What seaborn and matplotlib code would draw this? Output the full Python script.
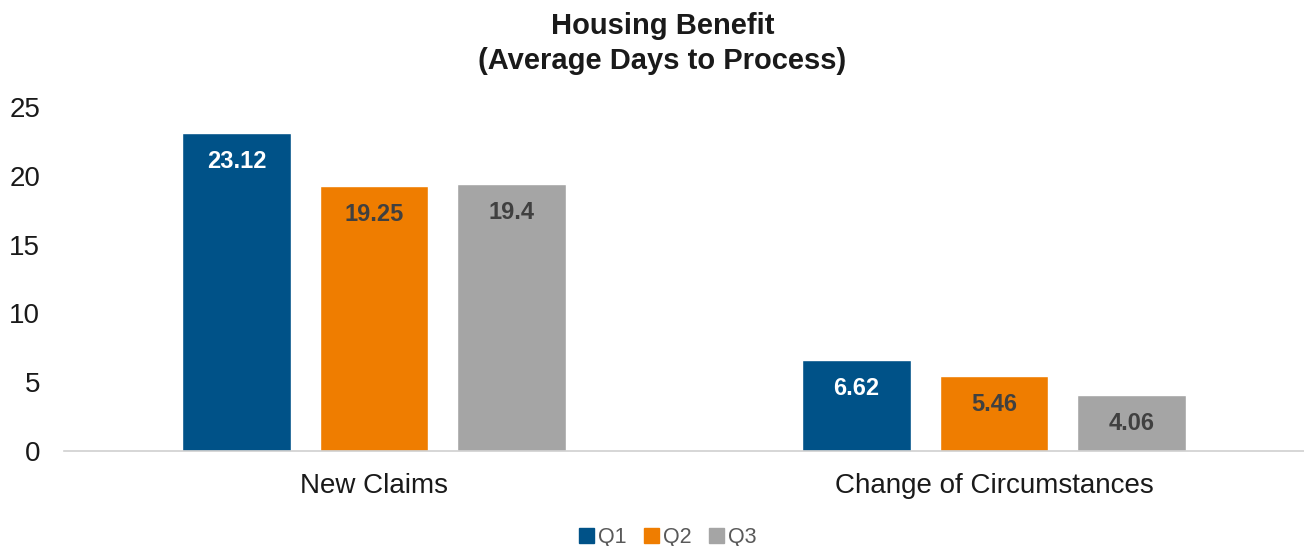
import matplotlib
matplotlib.use("Agg")
import matplotlib.pyplot as plt
import seaborn as sns
import pandas as pd

categories = ["New Claims", "Change of Circumstances"]
quarters = ["Q1", "Q2", "Q3"]
q1 = [23.12, 6.62]
q2 = [19.25, 5.46]
q3 = [19.4, 4.06]
colors = ["#005288", "#EF7D00", "#A5A5A5"]
label_colors = ["white", "#404040", "#404040"]

df = pd.DataFrame({
    "Category": categories * 3,
    "Quarter": [q for q in quarters for _ in categories],
    "Days": q1 + q2 + q3,
})

sns.set_theme(style="white")
plt.rcParams["font.family"] = ["Liberation Sans", "DejaVu Sans"]

fig = plt.figure(figsize=(13.04, 5.46), dpi=100)
ax = fig.add_axes([0.049, 0.174, 0.951, 0.630])

sns.barplot(data=df, x="Category", y="Days", hue="Quarter", order=categories,
            hue_order=quarters, palette=colors, width=0.665, gap=0.21,
            saturation=1, ax=ax, legend=True)

for cont, lc in zip(ax.containers, label_colors):
    ax.bar_label(cont, labels=[f"{v:g}" for v in cont.datavalues],
                 padding=-29, color=lc, fontsize=17, fontweight="bold")

ax.set_ylim(0, 25)
ax.set_xlim(-0.5, 1.5)
ax.set_yticks([0, 5, 10, 15, 20, 25])
ax.tick_params(axis="y", labelsize=20, pad=17, length=0, labelcolor="#1a1a1a")
ax.tick_params(axis="x", labelsize=20, pad=16, length=0, labelcolor="#1a1a1a")
ax.set_xlabel("")
ax.set_ylabel("")
for s in ["top", "right", "left"]:
    ax.spines[s].set_visible(False)
ax.spines["bottom"].set_color("#d0d0d0")
ax.spines["bottom"].set_linewidth(1.2)

fig.text(0.508, 0.978, "Housing Benefit\n(Average Days to Process)", ha="center",
         va="top", fontsize=21, fontweight="bold", color="#1a1a1a", linespacing=1.33)

ax.get_legend().remove()
handles = [plt.Rectangle((0, 0), 1, 1, color=c) for c in colors]
fig.legend(handles, quarters, loc="center", bbox_to_anchor=(0.512, 0.016),
           ncol=3, frameon=False, fontsize=15.5, handlelength=0.7, handleheight=0.7,
           handletextpad=0.2, columnspacing=0.8, labelcolor="#595959")

fig.savefig("out.png", dpi=100)
